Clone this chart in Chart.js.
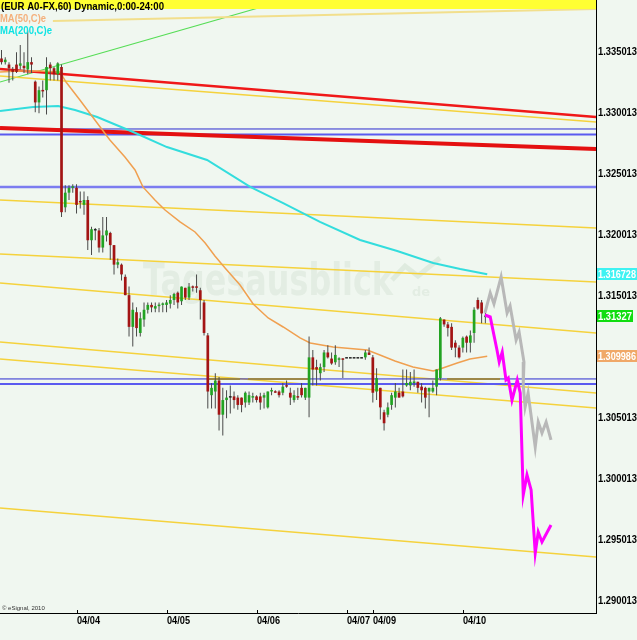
<!DOCTYPE html>
<html><head><meta charset="utf-8">
<script src="https://cdn.jsdelivr.net/npm/chart.js@4.4.1/dist/chart.umd.min.js"></script>
<style>html,body{margin:0;padding:0;background:#f0f7f0;overflow:hidden}canvas{display:block}</style>
</head><body>
<canvas id="c" width="637" height="640"></canvas>
<script>
// ---- hourly candles (EUR/USD, 60 min) ----
const OPEN  = [1.3344,1.3341,1.3339,1.3335,1.3339,1.3338,1.3338,1.3335,1.3341,1.3325,1.3308,1.3318,1.3318,1.3339,1.3336,1.3331,1.3337,1.3222,1.3234,1.3238,1.3238,1.3227,1.3224,1.3228,1.3195,1.3203,1.3203,1.3189,1.3199,1.3201,1.3191,1.3175,1.3175,1.3165,1.3150,1.3124,1.3136,1.3119,1.3130,1.3138,1.3142,1.3139,1.3141,1.3142,1.3142,1.3143,1.3146,1.3152,1.3145,1.3156,1.3148,1.3157,1.3157,1.3154,1.3144,1.3117,1.3068,1.3071,1.3080,1.3052,1.3064,1.3066,1.3067,1.3066,1.3066,1.3062,1.3062,1.3066,1.3067,1.3067,1.3066,1.3058,1.3071,1.3071,1.3071,1.3070,1.3076,1.3070,1.3064,1.3067,1.3074,1.3066,1.3066,1.3099,1.3091,1.3086,1.3091,1.3103,1.3098,1.3095,1.3097,1.3098,1.3098,1.3098,1.3098,1.3098,1.3098,1.3099,1.3103,1.3099,1.3071,1.3074,1.3054,1.3052,1.3060,1.3066,1.3070,1.3071,1.3076,1.3076,1.3078,1.3079,1.3075,1.3074,1.3071,1.3071,1.3075,1.3082,1.3130,1.3126,1.3124,1.3111,1.3107,1.3107,1.3116,1.3111,1.3119,1.3146,1.3144,1.3132];
const HIGH  = [1.3351,1.3345,1.3341,1.3337,1.3349,1.3355,1.3349,1.3367,1.3345,1.3326,1.3321,1.3326,1.3345,1.3341,1.3337,1.3341,1.3339,1.3240,1.3240,1.3241,1.3241,1.3235,1.3235,1.3231,1.3206,1.3205,1.3205,1.3214,1.3214,1.3202,1.3191,1.3180,1.3176,1.3167,1.3157,1.3144,1.3140,1.3136,1.3144,1.3144,1.3144,1.3144,1.3144,1.3144,1.3146,1.3150,1.3152,1.3153,1.3157,1.3156,1.3160,1.3158,1.3167,1.3156,1.3146,1.3119,1.3078,1.3086,1.3083,1.3074,1.3072,1.3076,1.3071,1.3068,1.3066,1.3071,1.3071,1.3070,1.3068,1.3070,1.3070,1.3071,1.3074,1.3072,1.3072,1.3078,1.3080,1.3074,1.3072,1.3074,1.3078,1.3074,1.3116,1.3105,1.3097,1.3094,1.3105,1.3109,1.3103,1.3109,1.3099,1.3098,1.3098,1.3098,1.3098,1.3098,1.3098,1.3105,1.3107,1.3101,1.3090,1.3074,1.3056,1.3062,1.3070,1.3078,1.3074,1.3089,1.3089,1.3087,1.3089,1.3079,1.3078,1.3075,1.3074,1.3080,1.3089,1.3132,1.3130,1.3128,1.3127,1.3113,1.3109,1.3116,1.3117,1.3121,1.3140,1.3148,1.3146,1.3136];
const LOW   = [1.3339,1.3339,1.3324,1.3326,1.3332,1.3335,1.3332,1.3331,1.3332,1.3300,1.3299,1.3312,1.3298,1.3326,1.3326,1.3326,1.3214,1.3218,1.3228,1.3234,1.3217,1.3221,1.3216,1.3187,1.3183,1.3195,1.3185,1.3185,1.3194,1.3179,1.3167,1.3172,1.3162,1.3150,1.3116,1.3108,1.3116,1.3116,1.3124,1.3135,1.3136,1.3136,1.3136,1.3136,1.3136,1.3139,1.3142,1.3139,1.3142,1.3146,1.3146,1.3153,1.3152,1.3130,1.3117,1.3057,1.3057,1.3057,1.3039,1.3035,1.3049,1.3053,1.3057,1.3056,1.3054,1.3058,1.3060,1.3062,1.3062,1.3056,1.3057,1.3057,1.3068,1.3070,1.3066,1.3068,1.3074,1.3060,1.3062,1.3064,1.3066,1.3064,1.3050,1.3076,1.3076,1.3080,1.3087,1.3098,1.3093,1.3093,1.3091,1.3082,1.3098,1.3098,1.3098,1.3098,1.3098,1.3097,1.3101,1.3062,1.3064,1.3048,1.3039,1.3050,1.3056,1.3058,1.3066,1.3066,1.3075,1.3072,1.3075,1.3070,1.3062,1.3057,1.3050,1.3070,1.3068,1.3080,1.3124,1.3116,1.3105,1.3099,1.3098,1.3103,1.3103,1.3103,1.3111,1.3138,1.3127,1.3127];
const CLOSE = [1.3341,1.3343,1.3336,1.3333,1.3333,1.3340,1.3336,1.3341,1.3339,1.3308,1.3318,1.3317,1.3337,1.3336,1.3331,1.3340,1.3218,1.3234,1.3238,1.3239,1.3224,1.3226,1.3228,1.3195,1.3204,1.3203,1.3189,1.3199,1.3203,1.3191,1.3175,1.3177,1.3167,1.3150,1.3124,1.3138,1.3123,1.3131,1.3138,1.3142,1.3140,1.3141,1.3142,1.3143,1.3144,1.3146,1.3151,1.3144,1.3157,1.3148,1.3157,1.3156,1.3156,1.3146,1.3119,1.3071,1.3074,1.3080,1.3052,1.3064,1.3066,1.3066,1.3064,1.3060,1.3060,1.3070,1.3068,1.3067,1.3064,1.3062,1.3068,1.3071,1.3072,1.3070,1.3068,1.3075,1.3075,1.3066,1.3068,1.3066,1.3068,1.3074,1.3099,1.3089,1.3089,1.3091,1.3103,1.3099,1.3094,1.3101,1.3098,1.3097,1.3098,1.3098,1.3098,1.3098,1.3098,1.3103,1.3101,1.3070,1.3082,1.3058,1.3045,1.3058,1.3068,1.3071,1.3066,1.3067,1.3078,1.3079,1.3079,1.3074,1.3072,1.3066,1.3074,1.3074,1.3089,1.3131,1.3126,1.3123,1.3107,1.3107,1.3099,1.3115,1.3111,1.3117,1.3138,1.3139,1.3135,1.3133];

// ---- x axis (bar index) and tick labels ----
const X_MIN = -0.4, X_MAX = 158.5;
const DATE_POS = [20, 44, 68, 92, 99, 123];
const DATE_LABELS = ['04/04', '04/05', '04/06', '04/07', '04/09', '04/10'];
// ---- y axis ----
const Y_MIN = 1.288945, Y_MAX = 1.339193;
const PRICE_TICKS = [1.335013, 1.330013, 1.325013, 1.320013, 1.315013, 1.305013, 1.300013, 1.295013, 1.290013];

// ---- moving averages ----
const MA50_X = [-0.4,4.9,10.3,15.6,17.2,20.9,24.9,28.9,32.9,35.6,37.7,40.9,43.6,47.6,51.6,54.3,56.9,59.6,63.6,67.1,71.1,75.1,79.6,82.3,88.4,97.5,100.9,104.9,109.7,115.1,116.9,121.5,124.9,129.5];
const MA50_Y = [1.33329,1.33337,1.33337,1.33329,1.33247,1.33100,1.32936,1.32772,1.32632,1.32526,1.32387,1.32280,1.32198,1.32100,1.32018,1.31927,1.31821,1.31723,1.31583,1.31427,1.31313,1.31239,1.31149,1.31108,1.31075,1.31050,1.31009,1.30960,1.30911,1.30878,1.30894,1.30944,1.30977,1.30999];
const MA200_X = [-0.4,8.4,15.1,19.6,25.5,35.1,44.1,54.8,66.3,75.1,84.9,95.6,105.5,115.1,122.3,129.5];
const MA200_Y = [1.33009,1.33042,1.33050,1.33018,1.32960,1.32837,1.32714,1.32608,1.32387,1.32255,1.32100,1.31952,1.31862,1.31764,1.31714,1.31672];

// ---- projections ----
const GREY_X = [128.9,130.3,131.3,133.2,134.8,135.6,137.2,138.0,139.3,139.1,139.6,140.4,142.3,143.1,144.1,145.2,146.5];
const GREY_Y = [1.31354,1.31518,1.31428,1.31649,1.31354,1.31411,1.31132,1.31198,1.30952,1.30763,1.30583,1.30698,1.30255,1.30460,1.30370,1.30460,1.30313];
const MAG_X = [128.9,130.3,132.1,132.7,133.5,134.5,135.1,136.1,137.5,138.3,139.1,140.1,141.2,142.3,143.1,144.1,146.5];
const MAG_Y = [1.31337,1.31321,1.31050,1.30952,1.31034,1.30804,1.30821,1.30640,1.30804,1.30698,1.29862,1.30026,1.29903,1.29386,1.29559,1.29477,1.29616];

// ---- drawn trend lines: [x1, price1, x2, price2] ----
const RED_LINES = [[-0.4,1.33354,158.5,1.32960],[-0.4,1.32870,158.5,1.32698]];
const GREEN_LINE = [-0.4,1.33247,75.9,1.33919];
const YELLOW_LINES = [[13.7,1.33747,158.5,1.33846],[-0.4,1.33296,158.5,1.32919],[-0.4,1.32280,158.5,1.32050],[-0.4,1.31837,158.5,1.31608],[-0.4,1.31600,158.5,1.31190],[-0.4,1.31116,158.5,1.30698],[-0.4,1.30977,158.5,1.30575],[-0.4,1.29755,158.5,1.29354]];
const BLUE_LEVELS = [1.32862, 1.32817, 1.32387, 1.30813, 1.30771];
const OLIVE_LEVEL = 1.30813;
const OLIVE_SPANS = [[54.8,63.6],[65.7,82.3],[118.8,132.9]];
// ---- last value boxes ----
const LAST_VALUES = [1.316728, 1.31327, 1.309986];
const LAST_TEXT = ['1.316728', '1.31327', '1.309986'];

const FONT = "'Liberation Sans',Arial,sans-serif";
const UP = '#22a322', DOWN = '#a31414', DOJI = '#222222';

const bodies = OPEN.map((o, i) => ({x: i, y: [Math.min(o, CLOSE[i]), Math.max(o, CLOSE[i])]}));
const bodyColors = OPEN.map((o, i) => CLOSE[i] > o ? UP : (CLOSE[i] < o ? DOWN : DOJI));
const wicks = LOW.map((l, i) => ({x: i, y: [l, HIGH[i]]}));
const pts = (xs, ys) => xs.map((x, i) => ({x, y: ys[i]}));
function line(data, color, width, order) {
  return {type: 'line', data, borderColor: color, borderWidth: width, pointRadius: 0, fill: false, tension: 0, order};
}

const datasets = [
  line(pts(MAG_X, MAG_Y), '#ff00ff', 3, 0),
  line(pts(GREY_X, GREY_Y), '#b8b8b8', 3, 1),
  {type: 'bar', data: bodies, backgroundColor: bodyColors, grouped: false, maxBarThickness: 3, minBarLength: 1.5, inflateAmount: 0, borderWidth: 0, order: 2},
  {type: 'bar', data: wicks, backgroundColor: '#4a4a4a', grouped: false, maxBarThickness: 1, inflateAmount: 0, borderWidth: 0, order: 3},
  line(pts(MA50_X, MA50_Y), '#f0a050', 1.5, 4),
  line(pts(MA200_X, MA200_Y), '#33dddd', 2, 5),
];
RED_LINES.forEach((l, k) => datasets.push(line([{x: l[0], y: l[1]}, {x: l[2], y: l[3]}], k ? '#e41010' : '#f01818', k ? 4 : 2.5, 6)));
BLUE_LEVELS.forEach((v, k) => datasets.push(line([{x: X_MIN, y: v}, {x: X_MAX, y: v}], k === 2 ? '#7c7cf0' : (k === 1 || k === 4 ? '#5a5af0' : '#2c2cd0'), k === 2 ? 2.5 : (k === 1 || k === 4 ? 2 : 1), 7)));
OLIVE_SPANS.forEach(s => datasets.push(line([{x: s[0], y: OLIVE_LEVEL}, {x: s[1], y: OLIVE_LEVEL}], '#9c8748', 2, 6.5)));
YELLOW_LINES.forEach((l, k) => datasets.push(line([{x: l[0], y: l[1]}, {x: l[2], y: l[3]}], k === 0 ? '#f2df8c' : '#f5d23c', k === 0 ? 2 : 1.5, 8)));
datasets.push(line([{x: GREEN_LINE[0], y: GREEN_LINE[1]}, {x: GREEN_LINE[2], y: GREEN_LINE[3]}], '#55dd55', 1.2, 9));

const decor = {
  id: 'decor',
  beforeDraw(chart) {
    const c = chart.ctx;
    c.save();
    c.fillStyle = '#f0f7f0';
    c.fillRect(0, 0, chart.width, chart.height);
    c.restore();
  },
  beforeDatasetsDraw(chart) {
    const c = chart.ctx;
    c.save();
    c.fillStyle = 'rgba(150,175,150,0.14)';
    c.font = "bold 44px 'DejaVu Sans',sans-serif";
    c.textBaseline = 'alphabetic';
    c.fillText('Tagesausblick', 143, 295, 250);
    c.font = "bold 13px 'DejaVu Sans',sans-serif";
    c.fillText('de', 412, 296);
    c.strokeStyle = 'rgba(150,185,150,0.18)';
    c.lineWidth = 5;
    c.beginPath();
    c.moveTo(392, 280); c.lineTo(405, 266); c.lineTo(418, 276); c.lineTo(440, 258);
    c.stroke();
    c.restore();
  },
  afterDatasetsDraw(chart) {
    const c = chart.ctx, a = chart.chartArea;
    c.save();
    c.fillStyle = '#ffff33';
    c.fillRect(a.left, 0, a.right - a.left, 9);
    c.textBaseline = 'alphabetic';
    c.fillStyle = '#000';
    c.font = 'bold 11px ' + FONT;
    c.fillText('(EUR A0-FX,60) Dynamic,0:00-24:00', 1, 10, 163);
    c.font = 'bold 11px ' + FONT;
    c.fillStyle = '#f4b07c';
    c.fillText('MA(50,C)e', 0, 22, 46);
    c.fillStyle = '#10e3e3';
    c.fillText('MA(200,C)e', 0, 34, 52);
    c.fillStyle = '#333';
    c.font = '6px ' + FONT;
    c.fillText('\u00a9 eSignal, 2010', 2, 610);
    c.restore();
  },
  afterDraw(chart) {
    const c = chart.ctx, a = chart.chartArea, ys = chart.scales.y, xs = chart.scales.x;
    c.save();
    c.strokeStyle = '#000'; c.lineWidth = 1;
    c.fillStyle = '#000';
    c.font = 'bold 11px ' + FONT;
    c.textBaseline = 'middle';
    c.textAlign = 'left';
    // time axis: tick marks + labels
    xs.ticks.forEach(t => {
      const px = Math.round(xs.getPixelForValue(t.value)) + 0.5;
      c.beginPath(); c.moveTo(px, a.bottom - 3); c.lineTo(px, a.bottom); c.stroke();
      c.fillText(t.label, px - 0.5, a.bottom + 8, 23);
    });
    // price axis labels
    ys.ticks.forEach(t => {
      c.fillText(t.label, a.right + 2, Math.round(ys.getPixelForValue(t.value)) + 0.5, 39);
    });
    // last value boxes
    const cols = ['#3ef2f2', '#10dd10', '#f0a868'];
    LAST_VALUES.forEach((v, k) => {
      const py = Math.round(ys.getPixelForValue(v));
      const w = k === 1 ? 36 : 40;
      c.fillStyle = cols[k];
      c.fillRect(a.right + 1, py - 6, w, 12);
      c.fillStyle = '#fff';
      c.fillText(LAST_TEXT[k], a.right + 2, py + 0.5, w - 2);
    });
    c.restore();
  }
};

new Chart(document.getElementById('c'), {
  type: 'bar',
  data: {datasets},
  options: {
    responsive: false, animation: false, events: [],
    layout: {padding: 0},
    plugins: {legend: {display: false}, tooltip: {enabled: false}},
    scales: {
      x: {
        type: 'linear', min: X_MIN, max: X_MAX, offset: false,
        grid: {display: false, drawTicks: false},
        border: {display: true, color: '#000', width: 1},
        ticks: {display: false, autoSkip: false, maxRotation: 0,
          callback: v => DATE_LABELS[DATE_POS.indexOf(v)] || ''},
        afterBuildTicks: s => { s.ticks = DATE_POS.map(v => ({value: v})); },
        afterFit: s => { s.height = 27; s.paddingLeft = 0; s.paddingRight = 0; }
      },
      y: {
        type: 'linear', position: 'right', min: Y_MIN, max: Y_MAX,
        grid: {display: false, drawTicks: false},
        border: {display: true, color: '#000', width: 1},
        ticks: {display: false, autoSkip: false,
          callback: v => v.toFixed(6)},
        afterBuildTicks: s => { s.ticks = PRICE_TICKS.map(v => ({value: v})); },
        afterFit: s => { s.width = 41; s.paddingTop = 0; s.paddingBottom = 0; }
      }
    }
  },
  plugins: [decor]
});
</script>
</body></html>
